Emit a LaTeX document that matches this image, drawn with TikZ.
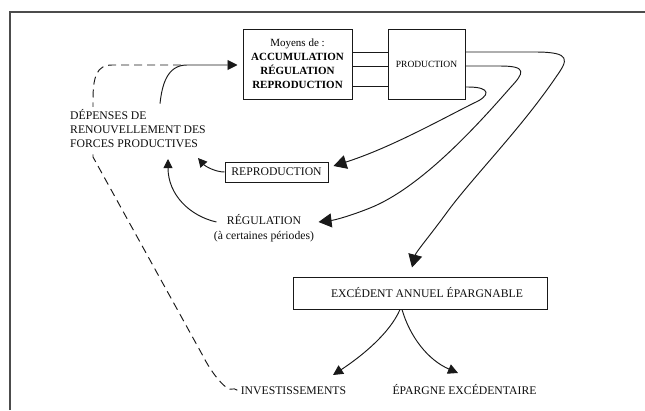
\documentclass[tikz,border=0pt]{standalone}
\usepackage{fontspec}
\setmainfont{Liberation Serif}
\usetikzlibrary{arrows.meta,backgrounds}
\tikzset{
  txt/.style={font=\fontsize{11.7}{14}\selectfont, text=black!95},
  boxnode/.style={draw=black!90, line width=1pt, inner sep=0pt},
  conn/.style={draw=black!90, line width=0.95pt},
  bigtip/.style={conn, -{Triangle[length=13pt,width=14pt]}},
  midtip/.style={conn, -{Triangle[length=10pt,width=10pt]}},
  smalltip/.style={conn, -{Triangle[length=9pt,width=9pt]}},
  dashline/.style={draw=black!90, line width=0.95pt, dash pattern=on 8pt off 5pt},
}
\begin{document}
\begin{tikzpicture}[x=1pt,y=-1pt]
\useasboundingbox (0,0) rectangle (645,410);
% frame
\draw[line width=1.6pt, black!70] (10,410) -- (10,12) -- (645,12);

% nodes
\node[boxnode, minimum width=109pt, minimum height=70pt, align=center,
      font=\fontsize{11}{14}\selectfont] (b1) at (297.5,64)
  {Moyens de :\\ \textbf{ACCUMULATION}\\ \textbf{RÉGULATION}\\ \textbf{REPRODUCTION}};
\node[boxnode, minimum width=77pt, minimum height=70pt,
      font=\fontsize{9.5}{11}\selectfont] (b2) at (426.5,64) {\raisebox{-2pt}{PRODUCTION}};
\node[boxnode, txt, minimum width=103pt, minimum height=20pt] (rep) at (276.5,172) {REPRODUCTION};
\node[txt, align=center, font=\fontsize{11.7}{15}\selectfont] (reg) at (264,228)
  {RÉGULATION\\(à certaines périodes)};
\node[txt, align=left, anchor=west, fill=white, inner sep=3pt] (dep) at (67,129)
  {DÉPENSES DE\\RENOUVELLEMENT DES\\FORCES PRODUCTIVES};
\node[boxnode, txt, minimum width=254pt, minimum height=32pt] (exc) at (420,293)
  {\hspace*{14pt}EXCÉDENT ANNUEL ÉPARGNABLE};
\node[txt, anchor=base] (inv) at (293.5,394) {INVESTISSEMENTS};
\node[txt, anchor=base] (epa) at (464.5,394) {ÉPARGNE EXCÉDENTAIRE};

% links between the two top boxes
\draw[conn] ([yshift=12pt]b1.east) -- ([yshift=12pt]b2.west);
\draw[conn] ([yshift=-2pt]b1.east) -- ([yshift=-2pt]b2.west);
\draw[conn] ([yshift=-22pt]b1.east) -- ([yshift=-22pt]b2.west);

% three curves out of PRODUCTION
\draw[bigtip] ([yshift=12pt]b2.east) -- (535,52)
  .. controls (572,52) and (568,60) .. (556,77)
  .. controls (520,130) and (470,180) .. (445,215)
  .. controls (428,238) and (416,252) .. ([xshift=-8pt,yshift=9pt]exc.north);
\draw[bigtip] ([yshift=-2pt]b2.east) -- (500,66)
  .. controls (528,66) and (524,73) .. (510,88)
  .. controls (475,128) and (420,188) .. (370,208)
  .. controls (350,216) and (335,220) .. ([xshift=1pt,yshift=6pt]reg.east);
\draw[bigtip] ([yshift=-23pt]b2.east) -- (468,87)
  .. controls (492,87) and (490,96) .. (474,103)
  .. controls (440,120) and (390,148) .. ([xshift=5pt,yshift=6pt]rep.east);

% back to the expenses
\draw[smalltip] (rep.west) .. controls (215,172) and (205,166) .. (198,158);
\draw[smalltip] ([xshift=6pt,yshift=6pt]reg.west) .. controls (190,216) and (168,195) .. (168,159);

% expenses to the means
\draw[midtip] ([xshift=93pt,yshift=3pt]dep.north west)
  .. controls (162,85) and (167,65) .. (187,65) -- ([xshift=-5pt,yshift=-1pt]b1.west);

% dashed return from investments
\begin{scope}[on background layer]
\draw[dashline] (inv.west) .. controls (233,387) and (231,391) .. (227,388)
  .. controls (218,381) and (209,368) .. (203,356) -- (93,157) -- (93,100)
  .. controls (93,76) and (97,65) .. (112,65) -- ([xshift=-57pt,yshift=-1pt]b1.west);
\end{scope}

% split of the surplus
\draw[midtip] ([xshift=-20pt]exc.south) .. controls (390,333) and (362,356) .. ([xshift=39.5pt,yshift=19pt]inv.base);
\draw[midtip] ([xshift=-18pt]exc.south) .. controls (410,337) and (428,360) .. ([xshift=-6.5pt,yshift=21pt]epa.base);
\end{tikzpicture}
\end{document}
